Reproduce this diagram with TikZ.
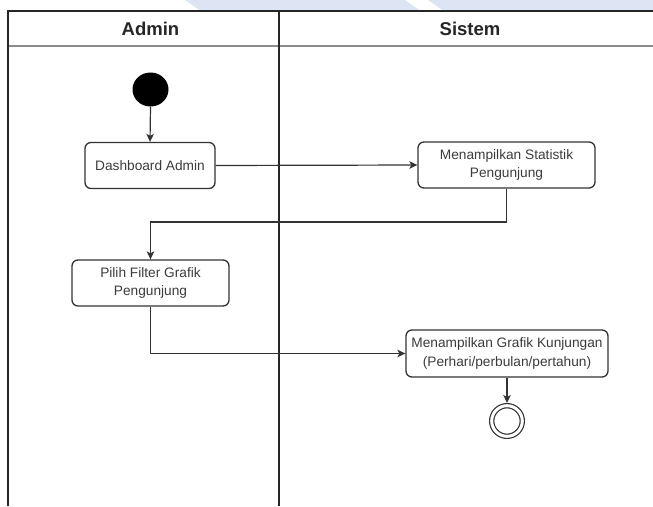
\documentclass[tikz,border=0pt]{standalone}
\usepackage{fontspec}
\setmainfont{Liberation Sans}
\usetikzlibrary{arrows.meta,shapes.geometric}
\definecolor{wmblue}{RGB}{221,228,243}
\definecolor{linegray}{RGB}{51,51,51}
\definecolor{txtgray}{RGB}{60,60,60}
\tikzset{
  lane/.style={line width=1.4pt, draw=black!85},
  headsep/.style={line width=2pt, draw=black!45},
  act/.style={draw=linegray, line width=1.3pt, rounded corners=6pt, fill=white,
    align=center, inner sep=0pt, text=txtgray,
    font=\fontsize{13.7}{18.5}\selectfont},
  arr/.style={draw=linegray, line width=1.2pt, -{Stealth[length=8pt,width=7.5pt,inset=2pt]}},
  hdr/.style={font=\fontsize{18.5}{20}\selectfont\bfseries, text=black!85}
}
\begin{document}
\begin{tikzpicture}[x=1pt,y=-1pt]
\useasboundingbox (0,0) rectangle (653,506);
% background watermark bands
\fill[wmblue] (185,0) -- (405,0) -- (420,10.5) -- (200,10.5) -- cycle;
\fill[wmblue] (428,0) -- (653,0) -- (653,10.5) -- (443,10.5) -- cycle;
% swimlane frame
\draw[headsep] (8,46) -- (653,46);
\draw[lane] (8,506) -- (8,11) -- (653,11);
\draw[lane] (279,11) -- (279,506);
\node[hdr] (hadmin) at (150.5,29) {Admin};
\node[hdr] (hsistem) at (470,29) {Sistem};
% nodes
\node[ellipse, fill=black, minimum width=36pt, minimum height=34pt, inner sep=0pt] (start) at (150.5,89.5) {};
\node[act, minimum width=130pt, minimum height=46pt] (dash) at (150,165.5) {Dashboard Admin};
\node[act, minimum width=177pt, minimum height=46pt] (stat) at (506.5,165) {Menampilkan Statistik\\Pengunjung};
\node[act, minimum width=157pt, minimum height=46pt] (pilih) at (150.5,283) {Pilih Filter Grafik\\Pengunjung};
\node[act, minimum width=202pt, minimum height=47pt] (grafik) at (507,353.5) {Menampilkan Grafik Kunjungan\\(Perhari/perbulan/pertahun)};
\node[circle, draw=linegray, line width=1.2pt, double=white, double distance=3pt,
  minimum size=30.6pt, inner sep=0pt, outer sep=2.7pt] (end) at (507,421) {};
\coordinate (j1) at (0,222);
% connectors
\draw[arr] (start.south) -- (dash.north);
\draw[arr] (dash.east) -- (stat.west);
\draw[arr] (stat.south) -- (stat.south |- j1) -| (pilih.north);
\draw[arr] (pilih.south) |- (grafik.west);
\draw[arr] (grafik.south) -- (end.north);
\end{tikzpicture}
\end{document}
